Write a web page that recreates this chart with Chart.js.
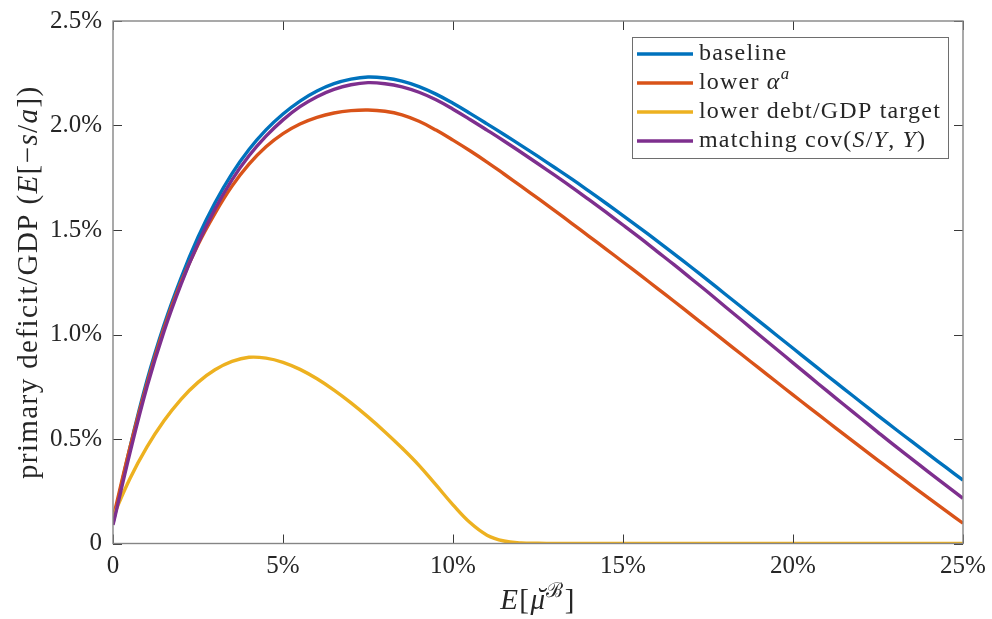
<!DOCTYPE html>
<html lang="en">
<head>
<meta charset="UTF-8">
<title>Primary deficit/GDP</title>
<style>
  html, body { margin: 0; padding: 0; background: #ffffff; }
  #wrap { width: 992px; height: 619px; }
</style>
<script src="https://cdn.jsdelivr.net/npm/chart.js"></script>
</head>
<body>
<div id="wrap"><canvas id="deficitChart" width="992" height="619"></canvas></div>
<script>
// x values: E[mu], in percent
const muValues = [0, 0.5, 1, 1.5, 2, 2.5, 3, 3.5, 4, 4.5, 5, 5.5, 6, 6.5, 7, 7.5, 8, 8.5, 9, 9.5,
  10, 10.5, 11, 11.5, 12, 12.5, 13, 13.5, 14, 14.5, 15, 15.5, 16, 16.5, 17, 17.5, 18, 18.5, 19, 19.5,
  20, 20.5, 21, 21.5, 22, 22.5, 23, 23.5, 24, 24.5, 25];

// primary deficit/GDP, in percent
const baseline = [0.097, 0.460, 0.780, 1.045, 1.270, 1.465, 1.630, 1.770, 1.885, 1.979, 2.055, 2.117, 2.165, 2.200, 2.222, 2.232, 2.227, 2.212, 2.186, 2.150,
  2.106, 2.058, 2.008, 1.957, 1.905, 1.852, 1.798, 1.743, 1.686, 1.628, 1.569, 1.509, 1.448, 1.386, 1.323, 1.259, 1.194, 1.129, 1.064, 0.999,
  0.934, 0.869, 0.804, 0.740, 0.676, 0.612, 0.549, 0.487, 0.425, 0.364, 0.303];

const lowerAlpha = [0.120, 0.460, 0.765, 1.030, 1.250, 1.430, 1.580, 1.710, 1.815, 1.898, 1.961, 2.007, 2.039, 2.060, 2.071, 2.074, 2.068, 2.051, 2.020, 1.978,
  1.930, 1.879, 1.825, 1.768, 1.710, 1.651, 1.591, 1.531, 1.470, 1.409, 1.347, 1.285, 1.222, 1.159, 1.095, 1.031, 0.967, 0.903, 0.839, 0.775,
  0.711, 0.648, 0.585, 0.522, 0.460, 0.398, 0.337, 0.276, 0.216, 0.156, 0.097];

const lowerDebtTarget = [0.128, 0.311, 0.462, 0.587, 0.690, 0.771, 0.831, 0.871, 0.891, 0.887, 0.867, 0.833, 0.788, 0.734, 0.673, 0.606, 0.534, 0.457, 0.374, 0.280,
  0.185, 0.100, 0.040, 0.012, 0.003, 0.001, 0, 0, 0, 0, 0, 0, 0, 0, 0, 0, 0, 0, 0, 0,
  0, 0, 0, 0, 0, 0, 0, 0, 0, 0, 0];

const matchingCov = [0.089, 0.435, 0.750, 1.015, 1.240, 1.435, 1.600, 1.740, 1.855, 1.949, 2.027, 2.090, 2.138, 2.173, 2.195, 2.205, 2.200, 2.185, 2.159, 2.123,
  2.078, 2.029, 1.978, 1.926, 1.872, 1.817, 1.761, 1.704, 1.645, 1.585, 1.524, 1.462, 1.398, 1.334, 1.268, 1.202, 1.134, 1.067, 0.999, 0.932,
  0.864, 0.797, 0.730, 0.664, 0.598, 0.532, 0.467, 0.404, 0.340, 0.278, 0.216];

const xTicks = [0, 5, 10, 15, 20, 25];
const yTicks = [0, 0.5, 1, 1.5, 2, 2.5];

const seriesNames = ['baseline', 'lower alpha^a', 'lower debt/GDP target', 'matching cov(S/Y,Y)'];
const seriesColors = ['#0072BD', '#D95319', '#EDB120', '#7E2F8E'];

// rich-text versions of the labels (italic / superscript pieces)
const legendParts = [
  [{ t: 'baseline' }],
  [{ t: 'lower ' }, { t: 'α', italic: true }, { t: 'a', italic: true, sup: true }],
  [{ t: 'lower debt/GDP target' }],
  [{ t: 'matching cov(' }, { t: 'S', italic: true }, { t: '/' }, { t: 'Y', italic: true }, { t: ', ' }, { t: 'Y', italic: true }, { t: ')' }]
];
const yTitleParts = [{ t: 'primary deficit/GDP (' }, { t: 'E', italic: true }, { t: '[−' }, { t: 's', italic: true }, { t: '/' }, { t: 'a', italic: true }, { t: '])' }];
const xTitleParts = [{ t: 'E', italic: true }, { t: '[' }, { t: 'μ', italic: true, accent: '˘' }, { t: 'ℬ', sup: true }, { t: ']' }];

const FAMILY = '"Liberation Serif", "DejaVu Serif", serif';
const INK = '#262626';

function partFont(p, base) {
  const size = p.sup ? base * 0.7 : base;
  return (p.italic ? 'italic ' : '') + size + 'px ' + FAMILY;
}

function richWidth(ctx, parts, base) {
  let w = 0;
  parts.forEach(p => { ctx.font = partFont(p, base); w += ctx.measureText(p.t).width; });
  return w;
}

function drawRich(ctx, parts, x, y, base, align) {
  let cx = align === 'center' ? x - richWidth(ctx, parts, base) / 2 : x;
  ctx.textBaseline = 'alphabetic';
  parts.forEach(p => {
    ctx.font = partFont(p, base);
    ctx.textAlign = 'left';
    const dy = p.sup ? -base * 0.42 : 0;
    ctx.fillText(p.t, cx, y + dy);
    const w = ctx.measureText(p.t).width;
    if (p.accent) {
      ctx.textAlign = 'center';
      ctx.fillText(p.accent, cx + w / 2 + base * 0.1, y - base * 0.05);
    }
    cx += w;
  });
}

function toPoints(ys) {
  return muValues.map((x, i) => ({ x: x, y: ys[i] }));
}

// MATLAB-style box with inward ticks, titles and legend
const matlabFrame = {
  id: 'matlabFrame',
  afterDraw(chart) {
    const ctx = chart.ctx;
    const a = chart.chartArea;
    const xs = chart.scales.x, ys = chart.scales.y;
    const tl = 9;
    ctx.save();

    ctx.strokeStyle = '#3a3a3a';
    ctx.lineWidth = 1;
    ctx.beginPath();
    xTicks.forEach(v => {
      const px = Math.round(xs.getPixelForValue(v)) + 0.5;
      ctx.moveTo(px, a.bottom); ctx.lineTo(px, a.bottom - tl);
      ctx.moveTo(px, a.top); ctx.lineTo(px, a.top + tl);
    });
    yTicks.forEach(v => {
      const py = Math.round(ys.getPixelForValue(v)) + 0.5;
      ctx.moveTo(a.left, py); ctx.lineTo(a.left + tl, py);
      ctx.moveTo(a.right, py); ctx.lineTo(a.right - tl, py);
    });
    ctx.stroke();

    ctx.strokeStyle = '#858585';
    ctx.lineWidth = 1.4;
    ctx.strokeRect(a.left, a.top, a.right - a.left, a.bottom - a.top);

    // legend
    const lx = 632, ly = 37, lw = 316, lh = 121;
    ctx.fillStyle = '#ffffff';
    ctx.fillRect(lx, ly, lw, lh);
    ctx.strokeStyle = '#6e6e6e';
    ctx.lineWidth = 1;
    ctx.strokeRect(lx + 0.5, ly + 0.5, lw, lh);
    ctx.letterSpacing = '1.2px';
    chart.data.datasets.forEach((ds, i) => {
      const rowY = 54 + i * 29;
      ctx.strokeStyle = ds.borderColor;
      ctx.lineWidth = 3.4;
      ctx.beginPath();
      ctx.moveTo(637, rowY); ctx.lineTo(693, rowY);
      ctx.stroke();
      ctx.fillStyle = INK;
      drawRich(ctx, legendParts[i], 699, rowY + 6, 24, 'left');
    });

    // axis titles
    ctx.fillStyle = INK;
    ctx.letterSpacing = '1.4px';
    drawRich(ctx, xTitleParts, (a.left + a.right) / 2, 609, 29, 'center');
    ctx.save();
    ctx.translate(37, (a.top + a.bottom) / 2);
    ctx.rotate(-Math.PI / 2);
    drawRich(ctx, yTitleParts, 0, 0, 29, 'center');
    ctx.restore();

    ctx.restore();
  }
};

const datasets = [baseline, lowerAlpha, lowerDebtTarget, matchingCov].map((ys, i) => ({
  label: seriesNames[i],
  data: toPoints(ys),
  borderColor: seriesColors[i],
  backgroundColor: seriesColors[i],
  borderWidth: 3.4,
  pointRadius: 0,
  fill: false,
  tension: 0.4,
  order: [3, 2, 1, 0][i]
}));

const tickFont = { family: FAMILY, size: 25 };

new Chart(document.getElementById('deficitChart'), {
  type: 'line',
  data: { datasets: datasets },
  options: {
    responsive: false,
    animation: false,
    devicePixelRatio: 1,
    layout: { padding: { top: 21, right: 29, left: 0, bottom: 0 } },
    plugins: { legend: { display: false }, tooltip: { enabled: false } },
    scales: {
      x: {
        type: 'linear',
        min: 0, max: 25,
        afterBuildTicks: s => { s.ticks = xTicks.map(v => ({ value: v })); },
        afterFit: s => { s.height = 75.5; s.paddingLeft = 0; s.paddingRight = 0; },
        grid: { display: false, drawTicks: false },
        border: { display: false },
        ticks: {
          font: tickFont, color: INK, padding: 8, maxRotation: 0, autoSkip: false,
          callback: v => v === 0 ? '0' : v + '%'
        }
      },
      y: {
        type: 'linear',
        min: 0, max: 2.5,
        afterBuildTicks: s => { s.ticks = yTicks.map(v => ({ value: v })); },
        afterFit: s => { s.width = 113; s.paddingTop = 0; s.paddingBottom = 0; },
        grid: { display: false, drawTicks: false },
        border: { display: false },
        ticks: {
          font: tickFont, color: INK, padding: 11, autoSkip: false,
          callback: v => v === 0 ? '0' : v.toFixed(1) + '%'
        }
      }
    }
  },
  plugins: [matlabFrame]
});
</script>
</body>
</html>
